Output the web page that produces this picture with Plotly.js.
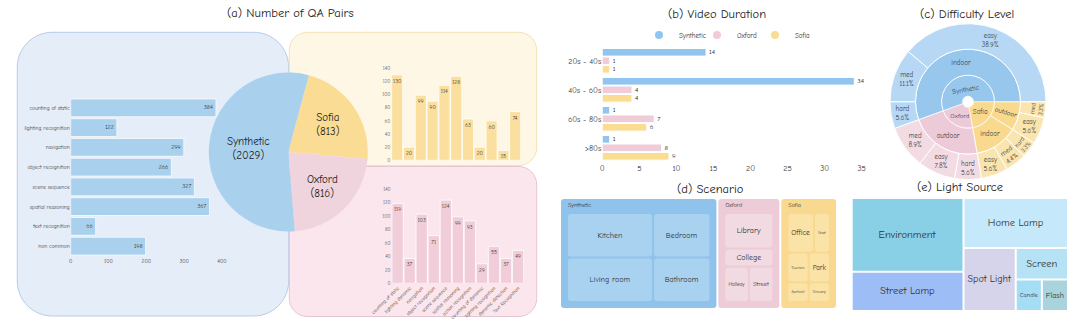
<!DOCTYPE html>
<html><head><meta charset="utf-8">
<script src="https://cdn.plot.ly/plotly-3.0.1.min.js"></script>
<style>html,body{margin:0;padding:0;background:#fff;}#chart{width:1080px;height:326px;}</style>
</head><body><div id="chart"></div>
<script>
// ---------------- data ----------------
const qaSynthTasks = ['counting of static','lighting recognition','navigation','object recognition','scene sequence','spatial reasoning','text recognition','non common'];
const qaSynthCounts = [384,122,299,266,327,367,66,198];
const qaRealTasks = ['counting of static','lighting dynamic','navigation','object recognition','scene sequence','spatial reasoning','action recognition','counting of dynamic','lighting recognition','dynamic detection','Text Recognition'];
const qaSofiaCounts = [130,20,99,90,114,128,63,20,60,15,74];
const qaOxfordCounts = [119,37,103,71,124,99,93,29,55,37,49];
const sourceNames = ['Synthetic','Oxford','Sofia'];

const durationBins = ['20s - 40s','40s - 60s','60s - 80s','>80s'];
const durSynthetic = [14,34,1,1];
const durOxford = [1,4,7,8];
const durSofia = [1,4,6,9];

const diffSource  = ['Synthetic','Synthetic','Synthetic','Oxford','Oxford','Oxford','Sofia','Sofia','Sofia','Sofia','Sofia'];
const diffSetting = ['indoor','indoor','indoor','outdoor','outdoor','outdoor','indoor','indoor','indoor','outdoor','outdoor'];
const diffLevel   = ['easy','med','hard','med','easy','hard','easy','med','hard','easy','med'];
const diffCount   = [35,10,5,8,7,5,5,4,3,5,3];

const scenPlaceSource = ['Synthetic','Synthetic','Synthetic','Synthetic','Oxford','Oxford','Oxford','Oxford','Sofia','Sofia','Sofia','Sofia','Sofia','Sofia'];
const scenPlaces = ['Kitchen','Living room','Bedroom','Bathroom','Library','College','Hallway','Street','Office','Street','Tourism','Park','Apartment','Grocery'];
const scenCounts = [15,15,10,10,8,4,4,4,5,3,3,3,2,2];

const lightSources = ['Environment','Street Lamp','Home Lamp','Spot Light','Screen','Candle','Flash'];
const lightCounts = [30,16,19,12,6,3,3];

// ---------------- styles ----------------
const FONT = '"Comic Sans MS","Comic Neue","Noto Sans","DejaVu Sans",sans-serif';
const srcColor = {Synthetic:'#a9d1ee', Oxford:'#efd3dd', Sofia:'#fadc94'};
const durColor = {Synthetic:'#91c4ee', Oxford:'#f0ccd8', Sofia:'#fbdc93'};
const ringInner = {Synthetic:'#98c7ee', Oxford:'#edcad7', Sofia:'#f9d98d'};
const ringOuter = {Synthetic:'#b6d8f4', Oxford:'#f3dbe4', Sofia:'#fbe5ae'};
const scenHead = {Synthetic:'#90c3ec', Oxford:'#edcbd7', Sofia:'#f9d98f'};
const scenTile = {Synthetic:'#a9d2f0', Oxford:'#f2dae2', Sofia:'#fbe3a7'};
const lightColors = ['#89cfe6','#9dbdf7','#c5e9fb','#d6d4ea','#b5e2f4','#a5ddf5','#a9d4dd'];
const CLEAR = 'rgba(0,0,0,0)';

const W = 1080, H = 326;
const px = v => v / W;
const py = v => 1 - v / H;
const xd = (a, b) => [px(a), px(b)];
const yd = (top, bottom) => [py(bottom), py(top)];
const sum = a => a.reduce((s, v) => s + v, 0);
const rev = a => a.slice().reverse();

function roundRect(x0, y0, x1, y1, r) {
  const k = 0.4477 * r;
  const P = (x, y) => (x / W).toFixed(5) + ',' + (1 - y / H).toFixed(5);
  return 'M' + P(x0 + r, y0) + ' L' + P(x1 - r, y0) + ' C' + P(x1 - k, y0) + ' ' + P(x1, y0 + k) + ' ' + P(x1, y0 + r) +
    ' L' + P(x1, y1 - r) + ' C' + P(x1, y1 - k) + ' ' + P(x1 - k, y1) + ' ' + P(x1 - r, y1) +
    ' L' + P(x0 + r, y1) + ' C' + P(x0 + k, y1) + ' ' + P(x0, y1 - k) + ' ' + P(x0, y1 - r) +
    ' L' + P(x0, y0 + r) + ' C' + P(x0, y0 + k) + ' ' + P(x0 + k, y0) + ' ' + P(x0 + r, y0) + ' Z';
}

const traces = [];

// (a) synthetic task bars
traces.push({
  type:'bar', orientation:'h', x: qaSynthCounts, y: qaSynthTasks, xaxis:'x', yaxis:'y', width:0.9,
  marker:{color: srcColor.Synthetic, line:{color:'rgba(255,255,255,0.7)', width:1}},
  text: qaSynthCounts.map(String), textposition:'inside', insidetextanchor:'end', textangle:0,
  constraintext:'none', textfont:{size:6, color:'#333'}, showlegend:false, hoverinfo:'x+y'
});
// (a) Sofia bars
traces.push({
  type:'bar', x: qaRealTasks, y: qaSofiaCounts, xaxis:'x2', yaxis:'y2', width:0.94,
  marker:{color:'#fbdf9e', line:{color:'rgba(255,255,255,0.8)', width:1}},
  text: qaSofiaCounts.map(String), textposition:'inside', insidetextanchor:'end', textangle:0,
  constraintext:'none', textfont:{size:5.5, color:'#333'}, showlegend:false
});
// (a) Oxford bars
traces.push({
  type:'bar', x: qaRealTasks, y: qaOxfordCounts, xaxis:'x3', yaxis:'y3', width:0.94,
  marker:{color:'#f0cdd9', line:{color:'rgba(255,255,255,0.8)', width:1}},
  text: qaOxfordCounts.map(String), textposition:'inside', insidetextanchor:'end', textangle:0,
  constraintext:'none', textfont:{size:5.5, color:'#333'}, showlegend:false
});
// (a) pie of totals
const totals = {Synthetic: sum(qaSynthCounts), Oxford: sum(qaOxfordCounts), Sofia: sum(qaSofiaCounts)};
const pieOrder = rev(sourceNames);
traces.push({
  type:'pie', labels: pieOrder, values: pieOrder.map(s => totals[s]), sort:false,
  direction:'clockwise', rotation:15,
  marker:{colors: pieOrder.map(s => srcColor[s]), line:{width:0}},
  texttemplate:'%{label}<br>(%{value})', textposition:'inside', insidetextorientation:'horizontal',
  textfont:{size:11, color:'#222'}, domain:{x: xd(208.3, 368.3), y: yd(72.5, 231.5)}, showlegend:false
});

// (b) video duration
const durSeries = {Synthetic: durSynthetic, Oxford: durOxford, Sofia: durSofia};
sourceNames.forEach(s => {
  traces.push({
    type:'bar', orientation:'h', name:s, x: durSeries[s], y: durationBins, xaxis:'x4', yaxis:'y4',
    marker:{color: durColor[s], line:{color:'#fff', width:1}},
    text: durSeries[s].map(String), textposition:'outside', textfont:{size:8, color:'#222'},
    cliponaxis:false, showlegend:false
  });
});
sourceNames.forEach(s => {
  traces.push({type:'scatter', mode:'markers', name:s, x:[null], y:[null], xaxis:'x4', yaxis:'y4',
    marker:{size:8, color: durColor[s]}, showlegend:true, hoverinfo:'skip'});
});

// (c) difficulty rings (sunburst built from concentric pies, drawn clockwise from 3 o'clock)
const innerKeys = rev(sourceNames);
const innerVals = innerKeys.map(s => sum(diffCount.filter((v, i) => diffSource[i] === s)));
const midKeysFwd = [];
diffSource.forEach((s, i) => { const k = s + '|' + diffSetting[i]; if (!midKeysFwd.includes(k)) midKeysFwd.push(k); });
const midKeys = rev(midKeysFwd);
const midVals = midKeys.map(k => sum(diffCount.filter((v, i) => diffSource[i] + '|' + diffSetting[i] === k)));
const outKeys = rev(diffLevel.map((l, i) => diffSource[i] + '|' + diffSetting[i] + '|' + l));
const outVals = rev(diffCount);
const cx = 968, cy = 101.7, rOut = 78, rMid = 52.5, rIn = 26.5, rHole = 5.5;
const ringBase = {type:'pie', sort:false, direction:'clockwise', rotation:90, showlegend:false,
  textposition:'inside', hoverinfo:'label+value'};
traces.push(Object.assign({}, ringBase, {
  labels: innerKeys, values: innerVals, text: innerKeys, textinfo:'text',
  marker:{colors: innerKeys.map(s => ringInner[s]), line:{color:'rgba(255,255,255,0.8)', width:0.8}},
  hole: rHole / rIn, insidetextorientation:'auto', textfont:{size:7, color:'#444'},
  domain:{x: xd(cx - rIn, cx + rIn), y: yd(cy - rIn, cy + rIn)}
}));
traces.push(Object.assign({}, ringBase, {
  labels: midKeys, values: midVals, text: midKeys.map(k => k.split('|')[1]), textinfo:'text',
  marker:{colors: midKeys.map(k => ringInner[k.split('|')[0]]), line:{color:'#fff', width:0.8}},
  hole: rIn / rMid, insidetextorientation:'auto', textfont:{size:7, color:'#444'},
  domain:{x: xd(cx - rMid, cx + rMid), y: yd(cy - rMid, cy + rMid)}
}));
traces.push(Object.assign({}, ringBase, {
  labels: outKeys, values: outVals, text: outKeys.map(k => k.split('|')[2]),
  texttemplate:'%{text}<br>%{percent:.1%}',
  marker:{colors: outKeys.map(k => ringOuter[k.split('|')[0]]), line:{color:'#fff', width:1}},
  hole: rMid / rOut, insidetextorientation:'auto', textfont:{size:7, color:'#444'},
  domain:{x: xd(cx - rOut, cx + rOut), y: yd(cy - rOut, cy + rOut)}
}));

// (d) scenario treemap (two overlaid copies: tiles + centred labels, and left headers)
const scenIds = sourceNames.concat(scenPlaces.map((p, i) => scenPlaceSource[i] + '/' + p));
const scenLabels = sourceNames.concat(scenPlaces);
const scenParents = sourceNames.map(() => '').concat(scenPlaceSource);
const scenValues = sourceNames.map(() => 0).concat(scenCounts);
const scenIsHead = scenParents.map(p => p === '');
const scenPad = {t:15, l:7, r:7, b:7};
const scenDomain = {x: xd(561 - scenPad.l, 836 + scenPad.r), y: yd(199 - scenPad.t, 308 + scenPad.b)};
const scenBase = {type:'treemap', ids: scenIds, labels: scenLabels, parents: scenParents, values: scenValues,
  branchvalues:'remainder', sort:false, tiling:{packing:'binary', pad:2}, pathbar:{visible:false},
  domain: scenDomain, textinfo:'text', hoverinfo:'label+value'};
traces.push(Object.assign({}, scenBase, {
  text: scenLabels.map((l, i) => scenIsHead[i] ? ' ' : l), textposition:'middle center',
  textfont:{size: scenIsHead.map(h => h ? 1 : 8), color: scenIsHead.map(h => h ? CLEAR : '#333')},
  marker:{colors: scenLabels.map((l, i) => scenIsHead[i] ? scenHead[l] : scenTile[scenParents[i]]),
    pad: scenPad, line:{width:0}, cornerradius:3}
}));
traces.push(Object.assign({}, scenBase, {
  text: scenLabels.map((l, i) => scenIsHead[i] ? '<b>' + l + '</b>' : ' '), textposition:'top left',
  textfont:{size: scenIsHead.map(h => h ? 6 : 1), color: scenIsHead.map(h => h ? '#333' : CLEAR)}, hoverinfo:'skip',
  marker:{colors: scenLabels.map(() => CLEAR), pad: scenPad, line:{width:0}}
}));

// (e) light source treemap
traces.push({
  type:'treemap', labels: lightSources, parents: lightSources.map(() => ''), values: lightCounts,
  sort:false, tiling:{packing:'binary', pad:2}, pathbar:{visible:false},
  marker:{colors: lightColors, pad:{t:0, l:0, r:0, b:0}, line:{width:0}},
  textinfo:'label', textposition:'middle center', textfont:{size:10.5, color:'#333'},
  domain:{x: xd(852.7, 1067), y: yd(199, 310)}
});

// ---------------- layout ----------------
const axBase = {showgrid:false, zeroline:false, showline:false, ticks:'', fixedrange:true,
  tickfont:{size:5.5, color:'#444'}};
function title(text, x, y) {
  return {text, x: px(x), y: py(y), xref:'paper', yref:'paper', showarrow:false,
    xanchor:'center', yanchor:'middle', font:{size:12.5, color:'#222'}};
}
const layout = {
  width: W, height: H, margin:{l:0, r:0, t:0, b:0}, paper_bgcolor:'#ffffff', plot_bgcolor:'rgba(0,0,0,0)',
  font:{family: FONT, color:'#333'},
  barmode:'group', bargap:0.12, bargroupgap:0.1,
  xaxis: Object.assign({}, axBase, {domain: xd(70.7, 222), range:[0, 400], dtick:100, anchor:'y'}),
  yaxis: Object.assign({}, axBase, {domain: yd(98, 256), autorange:'reversed', anchor:'x',
    tickmode:'array', tickvals: qaSynthTasks}),
  xaxis2: Object.assign({}, axBase, {domain: xd(391.3, 521.1), anchor:'y2', showticklabels:false}),
  yaxis2: Object.assign({}, axBase, {domain: yd(68.3, 160.3), range:[0, 140], dtick:20, anchor:'x2',
    tickfont:{size:5, color:'#555'}}),
  xaxis3: Object.assign({}, axBase, {domain: xd(391.6, 524.1), anchor:'y3', tickangle:-45,
    tickmode:'array', tickvals: qaRealTasks, tickfont:{size:5, color:'#444'}}),
  yaxis3: Object.assign({}, axBase, {domain: yd(189.3, 283.3), range:[0, 140], dtick:20, anchor:'x3',
    tickfont:{size:5, color:'#555'}}),
  xaxis4: Object.assign({}, axBase, {domain: xd(602.3, 861.7), range:[0, 35], dtick:5, anchor:'y4',
    tickfont:{size:8, color:'#333'}}),
  yaxis4: Object.assign({}, axBase, {domain: yd(46.3, 162.3), autorange:'reversed', anchor:'x4',
    tickmode:'array', tickvals: durationBins, tickfont:{size:8, color:'#333'}}),
  legend:{orientation:'h', x: px(726), xanchor:'center', y: py(35), yanchor:'middle',
    font:{size:7, color:'#333'}, bgcolor:'rgba(0,0,0,0)', itemwidth:30,
    entrywidth:13, entrywidthmode:'pixels'},
  shapes:[
    {type:'path', xref:'paper', yref:'paper', layer:'below', path: roundRect(17.3, 32.3, 288.7, 316, 35),
      fillcolor:'#e5edf9', line:{color:'#b8cbe9', width:1}},
    {type:'path', xref:'paper', yref:'paper', layer:'below', path: roundRect(289.3, 32.3, 536.7, 165.5, 18),
      fillcolor:'#fef7e6', line:{color:'#f3e2b6', width:1}},
    {type:'path', xref:'paper', yref:'paper', layer:'below', path: roundRect(289.3, 166.5, 536.7, 316.5, 18),
      fillcolor:'#fbe6ee', line:{color:'#e4c6d2', width:1}}
  ],
  annotations:[
    title('(a) Number of QA Pairs', 290, 13),
    title('(b) Video Duration', 717, 14),
    title('(c) Difficulty Level', 967, 14),
    title('(d) Scenario', 710, 189),
    title('(e) Light Source', 960, 187)
  ]
};
Plotly.newPlot('chart', traces, layout, {displayModeBar:false, staticPlot:true});
</script></body></html>
